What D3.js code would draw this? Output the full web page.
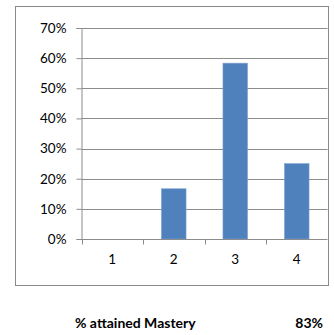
<!DOCTYPE html>
<html>
<head>
<meta charset="utf-8">
<script src="https://cdn.jsdelivr.net/npm/d3@7/dist/d3.min.js"></script>
<style>
  html, body { margin: 0; padding: 0; background: #fff; }
  svg text { font-family: Lato, "Open Sans", sans-serif; fill: #000; }
</style>
</head>
<body>
<svg id="chart" width="334" height="335"></svg>
<script>
// Share of students at each proficiency level
const levels = ["1", "2", "3", "4"];
const shares = [0, 2 / 12, 7 / 12, 3 / 12];
const yTicks = [0, 0.1, 0.2, 0.3, 0.4, 0.5, 0.6, 0.7];
const summaryLabel = "% attained Mastery";
const summaryValue = 10 / 12;

const svg = d3.select("#chart");
const plot = { left: 81.5, right: 327.5, top: 28, bottom: 239 };

// Outer chart frame
svg.append("rect")
  .attr("x", 15.5).attr("y", 6.5)
  .attr("width", 313).attr("height", 279)
  .attr("fill", "#fff").attr("stroke", "#8a8a8a").attr("stroke-width", 1);

const xBand = d3.scaleBand().domain(levels).range([plot.left, plot.right]);
const y = d3.scaleLinear().domain([0, 0.7]).range([plot.bottom, plot.top]);

// Horizontal gridlines
svg.append("g").selectAll("line").data(yTicks.slice(1)).join("line")
  .attr("x1", plot.left).attr("x2", plot.right)
  .attr("y1", d => Math.round(y(d)) + 0.5).attr("y2", d => Math.round(y(d)) + 0.5)
  .attr("stroke", "#8c8c8c").attr("stroke-width", 1);

// Bars
svg.append("g").selectAll("rect").data(levels).join("rect")
  .attr("x", d => xBand(d) + xBand.bandwidth() * 0.3)
  .attr("width", xBand.bandwidth() * 0.4)
  .attr("y", (d, i) => y(shares[i]))
  .attr("height", (d, i) => plot.bottom - y(shares[i]))
  .attr("fill", "#4f81bd")
  .attr("stroke", "#7ea3d0").attr("stroke-width", 0.6);

// Y axis
const yAxis = svg.append("g")
  .attr("transform", `translate(${plot.left},0)`)
  .call(d3.axisLeft(y).tickValues(yTicks).tickFormat(d3.format(".0%")).tickSize(5).tickPadding(10));
yAxis.select(".domain").attr("stroke", "#8c8c8c");
yAxis.selectAll(".tick line").attr("stroke", "#8c8c8c");
yAxis.selectAll("text").attr("font-size", 13.5).attr("font-family", "Lato, sans-serif");

// X axis with tick marks on the category boundaries
const xAxisG = svg.append("g").attr("transform", `translate(0,${plot.bottom + 0.5})`);
xAxisG.append("line").attr("x1", plot.left).attr("x2", plot.right)
  .attr("stroke", "#8c8c8c");
xAxisG.selectAll("line.tk").data(levels).join("line").attr("class", "tk")
  .attr("x1", d => Math.round(xBand(d)) + 0.5).attr("x2", d => Math.round(xBand(d)) + 0.5)
  .attr("y1", 0).attr("y2", 5).attr("stroke", "#8c8c8c");
xAxisG.selectAll("text").data(levels).join("text")
  .attr("x", d => xBand(d) + xBand.bandwidth() / 2)
  .attr("y", 24)
  .attr("text-anchor", "middle")
  .attr("font-size", 13.5)
  .text(d => d);

// Summary line below the chart
svg.append("text")
  .attr("x", 75).attr("y", 328)
  .attr("font-size", 14).attr("font-weight", "bold")
  .text(summaryLabel);
svg.append("text")
  .attr("x", 323).attr("y", 328)
  .attr("text-anchor", "end")
  .attr("font-size", 14).attr("font-weight", "bold")
  .text(d3.format(".0%")(summaryValue));
</script>
</body>
</html>
